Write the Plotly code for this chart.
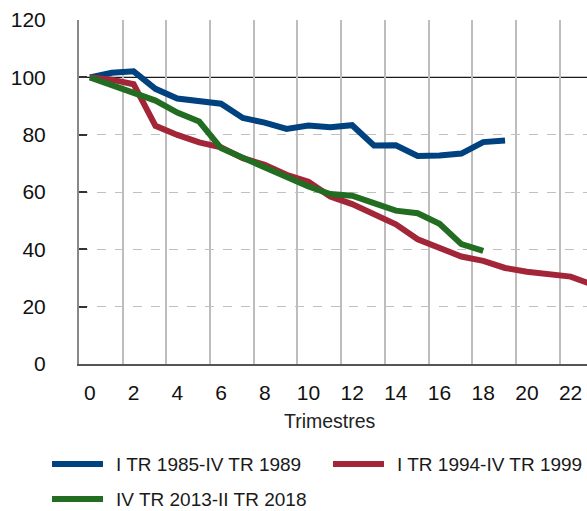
import plotly.graph_objects as go

# ---- data ----
quarters = list(range(24))
s1985_name = "I TR 1985-IV TR 1989"
s1985 = [100, 101.6, 102.1, 96.0, 92.6, 91.6, 90.8, 85.8, 84.2, 82.0, 83.2,
         82.6, 83.3, 76.2, 76.3, 72.6, 72.7, 73.4, 77.4, 78.0]
s1994_name = "I TR 1994-IV TR 1999"
s1994 = [100, 99.2, 97.6, 83.1, 79.9, 77.3, 75.6, 71.8, 69.5, 66.0, 63.6,
         58.4, 55.8, 52.2, 48.7, 43.5, 40.4, 37.5, 36.0, 33.5, 32.2, 31.4,
         30.5, 27.7]
s2013_name = "IV TR 2013-II TR 2018"
s2013 = [100, 97.4, 94.5, 91.9, 87.7, 84.6, 75.3, 72.0, 68.2, 65.4, 61.9,
         59.3, 58.7, 56.1, 53.5, 52.6, 48.9, 41.8, 39.5]
x_ticks = list(range(0, 23, 2))
y_ticks = [0, 20, 40, 60, 80, 100, 120]
base_level = 100
y_dashed_grid = [v for v in y_ticks if v not in (0, base_level)]
x_title = "Trimestres"

# ---- styles ----
C_BLUE = "#00417f"
C_RED = "#a32638"
C_GREEN = "#236d23"
LW = 6
TICK_FONT = dict(family="Liberation Sans, Arial", size=21, color="#111111")
LEG_FONT = dict(family="Liberation Sans, Arial", size=19, color="#1a1a1a")

W, H = 587, 511
ML, MR, MT, MB = 79, 0, 20, 511 - 364
PW, PH = W - ML - MR, H - MT - MB

def px_x(p):  # screenshot pixel -> paper
    return (p - ML) / PW

def px_y(p):
    return (H - MB - p) / PH

fig = go.Figure()
series = [(s1985_name, s1985, C_BLUE), (s1994_name, s1994, C_RED), (s2013_name, s2013, C_GREEN)]
for name, vals, col in series:
    fig.add_trace(go.Scatter(x=quarters[:len(vals)], y=vals, mode="lines", name=name,
                             line=dict(color=col, width=LW), showlegend=False))

# reference line at 100 (drawn above the grid, below the data lines)
fig.add_shape(type="line", xref="paper", yref="y", x0=0, x1=1, y0=base_level, y1=base_level,
              line=dict(color="#1a1a1a", width=1.3), layer="between")

# custom legend
legend_items = [
    (s1985_name, C_BLUE, 52, 103, 114, 464),
    (s1994_name, C_RED, 333, 384, 395, 464),
    (s2013_name, C_GREEN, 52, 103, 114, 499),
]
for name, col, lx0, lx1, tx, ly in legend_items:
    fig.add_shape(type="line", xref="paper", yref="paper",
                  x0=px_x(lx0), x1=px_x(lx1), y0=px_y(ly), y1=px_y(ly),
                  line=dict(color=col, width=LW))
    fig.add_annotation(xref="paper", yref="paper", x=px_x(tx), y=px_y(ly),
                       xanchor="left", yanchor="middle", text=name, showarrow=False,
                       font=LEG_FONT)

fig.add_annotation(xref="paper", yref="paper", x=px_x(330), y=px_y(421), xanchor="center",
                   yanchor="middle", text=x_title, showarrow=False,
                   font=dict(family="Liberation Sans, Arial", size=19.5, color="#222222"))

fig.update_layout(
    width=W, height=H,
    margin=dict(l=ML, r=MR, t=MT, b=MB, pad=0),
    paper_bgcolor="white", plot_bgcolor="white",
    xaxis=dict(range=[-0.5, 22.75], tickmode="array", tickvals=x_ticks,
               ticktext=[str(v) for v in x_ticks], showgrid=False, zeroline=False,
               showline=True, linecolor="#555555", linewidth=1.5, ticks="",
               tickfont=TICK_FONT, ticklabelstandoff=9,
               minor=dict(tick0=-0.5, dtick=2, showgrid=True, gridcolor="#bdbdbd",
                          gridwidth=1.5, ticks="")),
    yaxis=dict(range=[0, 120], tickmode="array", tickvals=y_ticks, showgrid=False,
               zeroline=False,
               showline=True, linecolor="#888888", linewidth=2,
               ticks="inside", ticklen=8, tickwidth=1.5, tickcolor="#333333",
               tickfont=TICK_FONT, ticklabelstandoff=27,
               minor=dict(tickvals=y_dashed_grid, showgrid=True, gridcolor="#c0c0c0",
                          gridwidth=1, griddash="dash", ticks="")),
)

# remove the page's default body margin so the figure fills the window exactly
fig.write_html("out.html",
               config={"displayModeBar": False},
               post_script="document.body.style.margin='0';"
                           "document.documentElement.style.overflow='hidden';"
                           "document.body.style.overflow='hidden';")
